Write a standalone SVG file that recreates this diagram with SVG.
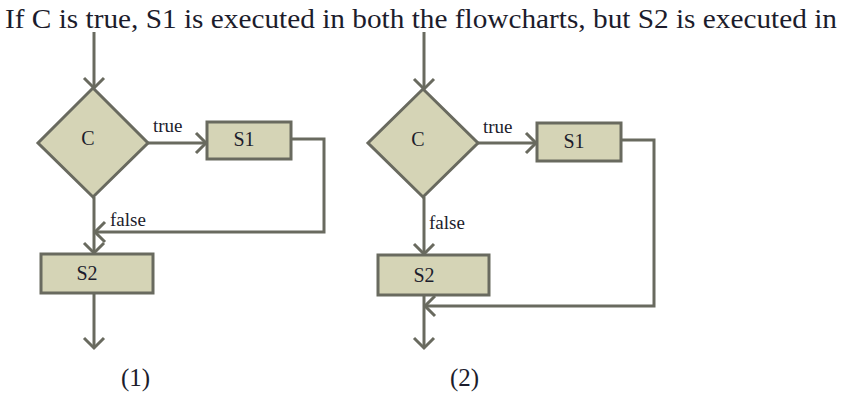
<svg xmlns="http://www.w3.org/2000/svg" width="841" height="394" viewBox="0 0 841 394">
<style>
.shape{fill:#d5d4b6;stroke:#696a5f;stroke-width:3}
.line{fill:none;stroke:#696a5f;stroke-width:3}
.t{font-family:"Liberation Serif",serif;fill:#1c1c2c}
.lbl{font-size:20px;text-anchor:middle}
.edge{font-size:19px}
</style>
<defs>
<marker id="ah" markerUnits="userSpaceOnUse" markerWidth="24" markerHeight="24" refX="12" refY="12" orient="auto" viewBox="0 0 24 24">
<path d="M2,2 L12,12 L2,22" fill="none" stroke="#696a5f" stroke-width="3"/>
</marker>
</defs>
<rect width="841" height="394" fill="#ffffff"/>
<text class="t" x="5" y="28" font-size="27" textLength="832" lengthAdjust="spacingAndGlyphs">If C is true, S1 is executed in both the flowcharts, but S2 is executed in</text>
<g id="connectors">
<path class="line" d="M94,32 V88" marker-end="url(#ah)"/>
<path class="line" d="M148,143 H206" marker-end="url(#ah)"/>
<path class="line" d="M291,139 H324 V232 H95" marker-end="url(#ah)"/>
<path class="line" d="M94,197 V253" marker-end="url(#ah)"/>
<path class="line" d="M94,293 V348" marker-end="url(#ah)"/>
<path class="line" d="M424,32 V89" marker-end="url(#ah)"/>
<path class="line" d="M478,143 H536" marker-end="url(#ah)"/>
<path class="line" d="M621,140 H654 V306 H425" marker-end="url(#ah)"/>
<path class="line" d="M424,197 V254" marker-end="url(#ah)"/>
<path class="line" d="M424,295 V348" marker-end="url(#ah)"/>
<text class="t edge" x="153" y="132">true</text>
<text class="t edge" x="110" y="226">false</text>
<text class="t edge" x="483" y="133">true</text>
<text class="t edge" x="429" y="229">false</text>
</g>
<g id="c1">
<polygon class="shape" points="93,88 148,143 93,197 38,143"/>
<text class="t lbl" x="88" y="145">C</text>
</g>
<g id="s1a">
<rect class="shape" x="207" y="122" width="84" height="37"/>
<text class="t lbl" x="244" y="146">S1</text>
</g>
<g id="s2a">
<rect class="shape" x="41" y="254" width="112" height="39"/>
<text class="t lbl" x="87" y="280">S2</text>
</g>
<g id="c2">
<polygon class="shape" points="423,89 478,143 423,197 368,143"/>
<text class="t lbl" x="418" y="146">C</text>
</g>
<g id="s1b">
<rect class="shape" x="537" y="123" width="84" height="38"/>
<text class="t lbl" x="574" y="148">S1</text>
</g>
<g id="s2b">
<rect class="shape" x="378" y="255" width="111" height="40"/>
<text class="t lbl" x="424" y="282">S2</text>
</g>
<text class="t" x="121" y="386" font-size="25">(1)</text>
<text class="t" x="450" y="386" font-size="25">(2)</text>
</svg>
